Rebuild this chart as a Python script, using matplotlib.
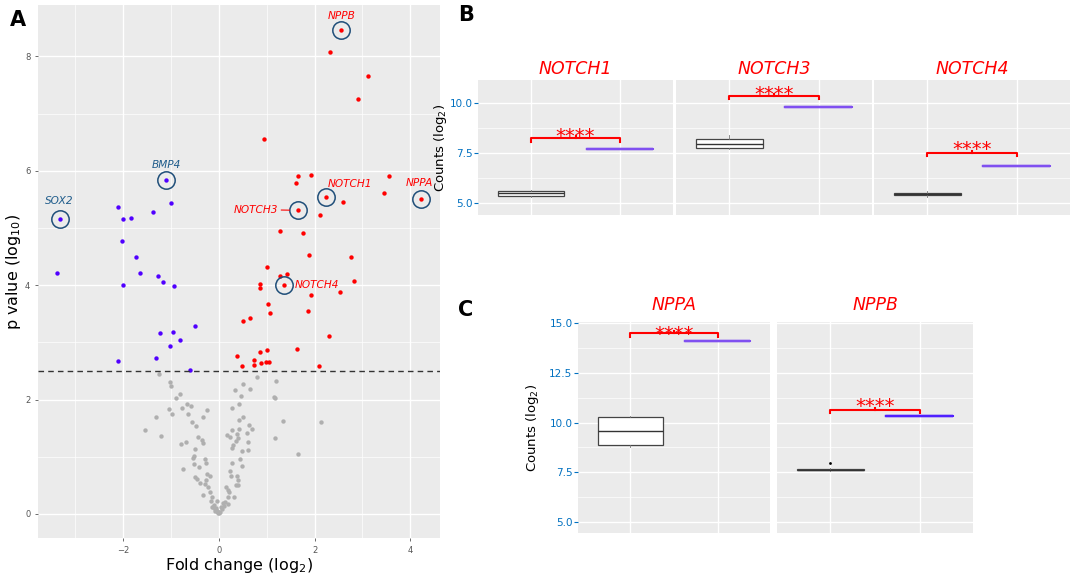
import matplotlib
matplotlib.use("Agg")
import matplotlib.pyplot as plt
from matplotlib.ticker import MultipleLocator

W, H = 1072, 578

# ---- panel A data (fold change log2, p value log10) ----
down_x = [-3.33, -3.39, -1.10, -2.11, -2.00, -1.84, -1.375, -1.00, -2.03, -1.73,
          -1.64, -1.27, -1.17, -2.00, -0.94, -0.49, -1.24, -0.965, -0.81, -1.03,
          -2.10, -1.31, -0.61]
down_y = [5.16, 4.21, 5.84, 5.37, 5.16, 5.17, 5.28, 5.44, 4.78, 4.49,
          4.22, 4.17, 4.06, 4.00, 3.99, 3.29, 3.16, 3.18, 3.04, 2.94,
          2.67, 2.72, 2.51]
up_x = [2.56, 2.33, 3.125, 2.90, 0.94, 1.65, 1.93, 3.56, 1.62, 2.24, 3.45, 2.59,
        4.22, 1.65, 2.11, 1.27, 1.76, 1.89, 2.77, 1.00, 1.27, 1.43, 0.85, 0.85,
        1.37, 2.83, 1.92, 2.54, 1.03, 1.07, 1.86, 0.50, 0.65, 2.30, 1.64, 0.375,
        0.85, 1.00, 0.74, 0.74, 0.88, 0.98, 1.05, 0.49, 2.10]
up_y = [8.47, 8.08, 7.65, 7.26, 6.56, 5.91, 5.92, 5.91, 5.79, 5.54, 5.62, 5.46,
        5.50, 5.31, 5.22, 4.95, 4.92, 4.53, 4.49, 4.31, 4.16, 4.20, 4.02, 3.96,
        4.01, 4.07, 3.83, 3.89, 3.68, 3.51, 3.55, 3.37, 3.43, 3.11, 2.89, 2.77,
        2.84, 2.86, 2.70, 2.61, 2.64, 2.66, 2.65, 2.58, 2.58]
ns_x = [-1.26, -1.02, -1.00, -0.81, -0.89, -0.67, -0.58, -1.04, -0.77, -0.25,
        -0.98, -0.64, -1.31, -0.33, -0.56, -0.48, -1.54, -1.21, -0.44, -0.35,
        -0.33, -0.69, -0.79, -0.49, -0.53, -0.54, -0.29, -0.26, -0.53, -0.41,
        -0.74, -0.25, -0.19, -0.49, -0.46, -0.26, -0.40, -0.29, -0.22, -0.19,
        -0.33, -0.15, -0.17, -0.10, -0.14, -0.06, -0.08, -0.01, -0.12, -0.05,
        0.80, 1.19, 0.51, 0.34, 0.64, 0.47, 1.17, 0.41, 0.28, 0.51,
        0.42, 1.33, 0.62, 0.70, 0.27, 0.41, 0.58, 0.16, 0.23, 0.37,
        0.39, 1.17, 0.35, 0.60, 0.29, 0.28, 0.60, 0.49, 0.44, 0.28,
        0.48, 0.23, 0.37, 0.25, 0.40, 0.35, 0.40, 0.15, 0.19, 0.22,
        0.31, 0.19, -0.04, 0.08, 0.18, 0.04, -0.03, 0.01, -0.08, 1.15,
        2.125, 1.65, 0.02, 0.06, -0.02, 0.10, 0.12]
ns_y = [2.45, 2.30, 2.24, 2.10, 2.02, 1.93, 1.89, 1.83, 1.85, 1.81,
        1.75, 1.74, 1.70, 1.69, 1.61, 1.54, 1.47, 1.37, 1.35, 1.29,
        1.24, 1.25, 1.22, 1.13, 1.02, 0.98, 0.96, 0.90, 0.87, 0.82,
        0.78, 0.70, 0.66, 0.65, 0.61, 0.59, 0.55, 0.52, 0.48, 0.39,
        0.34, 0.30, 0.22, 0.16, 0.13, 0.10, 0.05, 0.02, 0.12, 0.06,
        2.40, 2.32, 2.27, 2.16, 2.19, 2.07, 2.03, 1.92, 1.86, 1.69,
        1.64, 1.63, 1.56, 1.49, 1.47, 1.48, 1.42, 1.38, 1.35, 1.39,
        1.32, 1.33, 1.28, 1.26, 1.20, 1.15, 1.12, 1.11, 0.96, 0.90,
        0.84, 0.76, 0.66, 0.66, 0.59, 0.51, 0.50, 0.47, 0.42, 0.38,
        0.30, 0.29, 0.23, 0.19, 0.17, 0.13, 0.06, 0.01, 0.09, 2.04,
        1.61, 1.05, 0.04, 0.08, 0.03, 0.14, 0.21]
threshold = 2.5

hl_genes = ["NPPB", "NOTCH1", "NPPA", "NOTCH3", "NOTCH4", "BMP4", "SOX2"]
hl_x = [2.56, 2.24, 4.22, 1.65, 1.37, -1.10, -3.33]
hl_y = [8.47, 5.54, 5.50, 5.31, 4.01, 5.84, 5.16]

# ---- panels B / C data: box stats (q1, median, q3, whisker lo, whisker hi) ----
b_genes = ["NOTCH1", "NOTCH3", "NOTCH4"]
b_ctrl = [(5.36, 5.47, 5.57, 5.30, 5.62), (7.76, 7.94, 8.19, 7.70, 8.40), (5.40, 5.44, 5.48, 5.30, 5.60)]
b_treat = [7.70, 9.80, 6.86]
b_bracket = [8.24, 10.37, 7.50]

c_genes = ["NPPA", "NPPB"]
c_ctrl = [(8.85, 9.57, 10.29, 8.75, 10.32), (7.60, 7.64, 7.69, 7.55, 7.72)]
c_fliers = [[], [7.99]]
c_treat = [14.10, 10.34]
c_bracket = [14.48, 10.63]

RED = "#FF0000"
TICKBLUE = "#0070C0"
BG = "#EBEBEB"


def box(l, t, r, b):
    return [l / W, 1 - b / H, (r - l) / W, (b - t) / H]


def gg(ax):
    ax.set_facecolor(BG)
    for s in ax.spines.values():
        s.set_visible(False)
    ax.grid(True, which="major", color="white", lw=1.0)
    ax.grid(True, which="minor", color="white", lw=0.5)
    ax.set_axisbelow(True)


fig = plt.figure(figsize=(W / 100, H / 100), dpi=100)

# ================= panel A =================
ax = fig.add_axes(box(38, 5, 440, 538))
gg(ax)
ax.scatter(ns_x, ns_y, s=10, color="#AFAFAF", lw=0, zorder=2)
ax.scatter(down_x, down_y, s=10, color="#5000FF", lw=0, zorder=3)
ax.scatter(up_x, up_y, s=10, color=RED, lw=0, zorder=3)
ax.axhline(threshold, color="#333333", lw=1.0, ls=(0, (4, 3)), zorder=4)
ax.plot(hl_x, hl_y, ls="none", marker="o", ms=12.5, mfc="none", mec="#1F4E79", mew=1.1, zorder=5)

offsets = {"NPPB": (0, 10, "center"), "NOTCH1": (17, 9.5, "center"), "NPPA": (-1, 11.5, "center"),
           "NOTCH3": (-14, 0.5, "right"), "NOTCH4": (7.5, 0, "left"), "BMP4": (0, 10.5, "center"),
           "SOX2": (0, 13, "center")}
for g, x, y in zip(hl_genes, hl_x, hl_y):
    dx, dy, ha = offsets[g]
    col = "#1F5C8B" if x < 0 else RED
    arrow = dict(arrowstyle="-", color=RED, lw=0.8, shrinkA=0, shrinkB=6) if g == "NOTCH3" else None
    ax.annotate(g, (x, y), xytext=(dx, dy), textcoords="offset points", ha=ha, va="center",
                fontsize=7.6, style="italic", color=col, arrowprops=arrow, zorder=6)

ax.set_xlim(-3.78, 4.62)
ax.set_ylim(-0.42, 8.9)
ax.xaxis.set_major_locator(MultipleLocator(2))
ax.xaxis.set_minor_locator(MultipleLocator(1))
ax.yaxis.set_major_locator(MultipleLocator(2))
ax.yaxis.set_minor_locator(MultipleLocator(1))
ax.tick_params(which="major", labelsize=6, colors="#555555", length=2, width=0.6)
ax.tick_params(which="minor", length=0)
ax.set_xlabel("Fold change (log$_2$)", fontsize=11.5)
ax.set_ylabel("p value (log$_{10}$)", fontsize=11.5)
ax.xaxis.set_label_coords((239 - 38) / 402, -(556 - 538) / 533)
ax.yaxis.set_label_coords((23 - 38) / 402, 0.5)
fig.text(10 / W, 1 - 20 / H, "A", fontsize=15, fontweight="bold", va="center")


# ================= panels B / C =================
def facet(rect, gene, ctrl, treat, brk, ylim, fliers, first, title_pad, treat_col, star_px, ylab_x):
    a = fig.add_axes(box(*rect))
    gg(a)
    stats = [dict(q1=ctrl[0], med=ctrl[1], q3=ctrl[2], whislo=ctrl[3], whishi=ctrl[4], fliers=fliers),
             dict(q1=treat, med=treat, q3=treat, whislo=treat, whishi=treat, fliers=[])]
    a.bxp(stats[:1], positions=[1], widths=0.75, patch_artist=True, showcaps=False,
          boxprops=dict(facecolor="white", edgecolor="#444444", lw=0.9),
          medianprops=dict(color="#333333", lw=1.0),
          whiskerprops=dict(color="#777777", lw=0.6),
          flierprops=dict(marker="o", ms=2, mfc="black", mec="none"))
    a.bxp(stats[1:], positions=[2], widths=0.75, showcaps=False,
          boxprops=dict(color=treat_col, lw=1.6),
          medianprops=dict(color=treat_col, lw=1.6),
          whiskerprops=dict(color=treat_col, lw=0.6),
          showfliers=False)
    span = ylim[1] - ylim[0]
    px_per_unit = (rect[3] - rect[1]) / span
    leg = 3.3 / px_per_unit
    a.plot([1, 1, 2, 2], [brk - leg, brk, brk, brk - leg], color=RED, lw=1.5, zorder=5)
    a.plot([1.5, 1.5], [brk, brk + leg * 0.7], color=RED, lw=1.5, zorder=5)
    # asterisk glyph centre sits ~11.5 px above the baseline at 14 pt
    a.text(1.5, brk + (star_px - 11.5) / px_per_unit, "****", color=RED, fontsize=14,
           ha="center", va="baseline", zorder=6)
    a.set_xlim(0.4, 2.6)
    a.set_ylim(*ylim)
    a.set_xticks([1, 2])
    a.yaxis.set_major_locator(MultipleLocator(2.5))
    a.yaxis.set_minor_locator(MultipleLocator(1.25))
    a.tick_params(axis="x", length=0, labelbottom=False)
    a.tick_params(axis="y", which="minor", length=0)
    a.tick_params(axis="y", which="major", length=3, width=0.8, color=TICKBLUE,
                  labelcolor=TICKBLUE, labelsize=7.5, pad=1)
    a.yaxis.set_major_formatter(lambda v, p: f"{v:.1f}")
    if first:
        a.set_ylabel("Counts (log$_2$)", fontsize=9.5)
        a.yaxis.set_label_coords((ylab_x - rect[0]) / (rect[2] - rect[0]), 0.5)
    else:
        a.tick_params(axis="y", which="major", length=0, labelleft=False)
    a.set_title(gene, color=RED, style="italic", fontsize=12.5, pad=title_pad)
    return a


b_rects = [(478, 80, 673, 215), (676, 80, 872, 215), (874, 80, 1070, 215)]
b_star = [8, 7, 9]
for i, g in enumerate(b_genes):
    facet(b_rects[i], g, b_ctrl[i], b_treat[i], b_bracket[i], (4.38, 11.17), [], i == 0, 4,
          "#8050F0", b_star[i], 449)

c_rects = [(578, 322, 770, 533), (777, 322, 973, 533)]
c_cols = ["#8050F0", "#5020FF"]
c_star = [4.5, 9]
for i, g in enumerate(c_genes):
    facet(c_rects[i], g, c_ctrl[i], c_treat[i], c_bracket[i], (4.45, 15.05), c_fliers[i], i == 0, 9,
          c_cols[i], c_star[i], 541)

fig.text(458 / W, 1 - 15 / H, "B", fontsize=15, fontweight="bold", va="center")
fig.text(458 / W, 1 - 310 / H, "C", fontsize=15, fontweight="bold", va="center")

fig.savefig("out.png", dpi=100)
